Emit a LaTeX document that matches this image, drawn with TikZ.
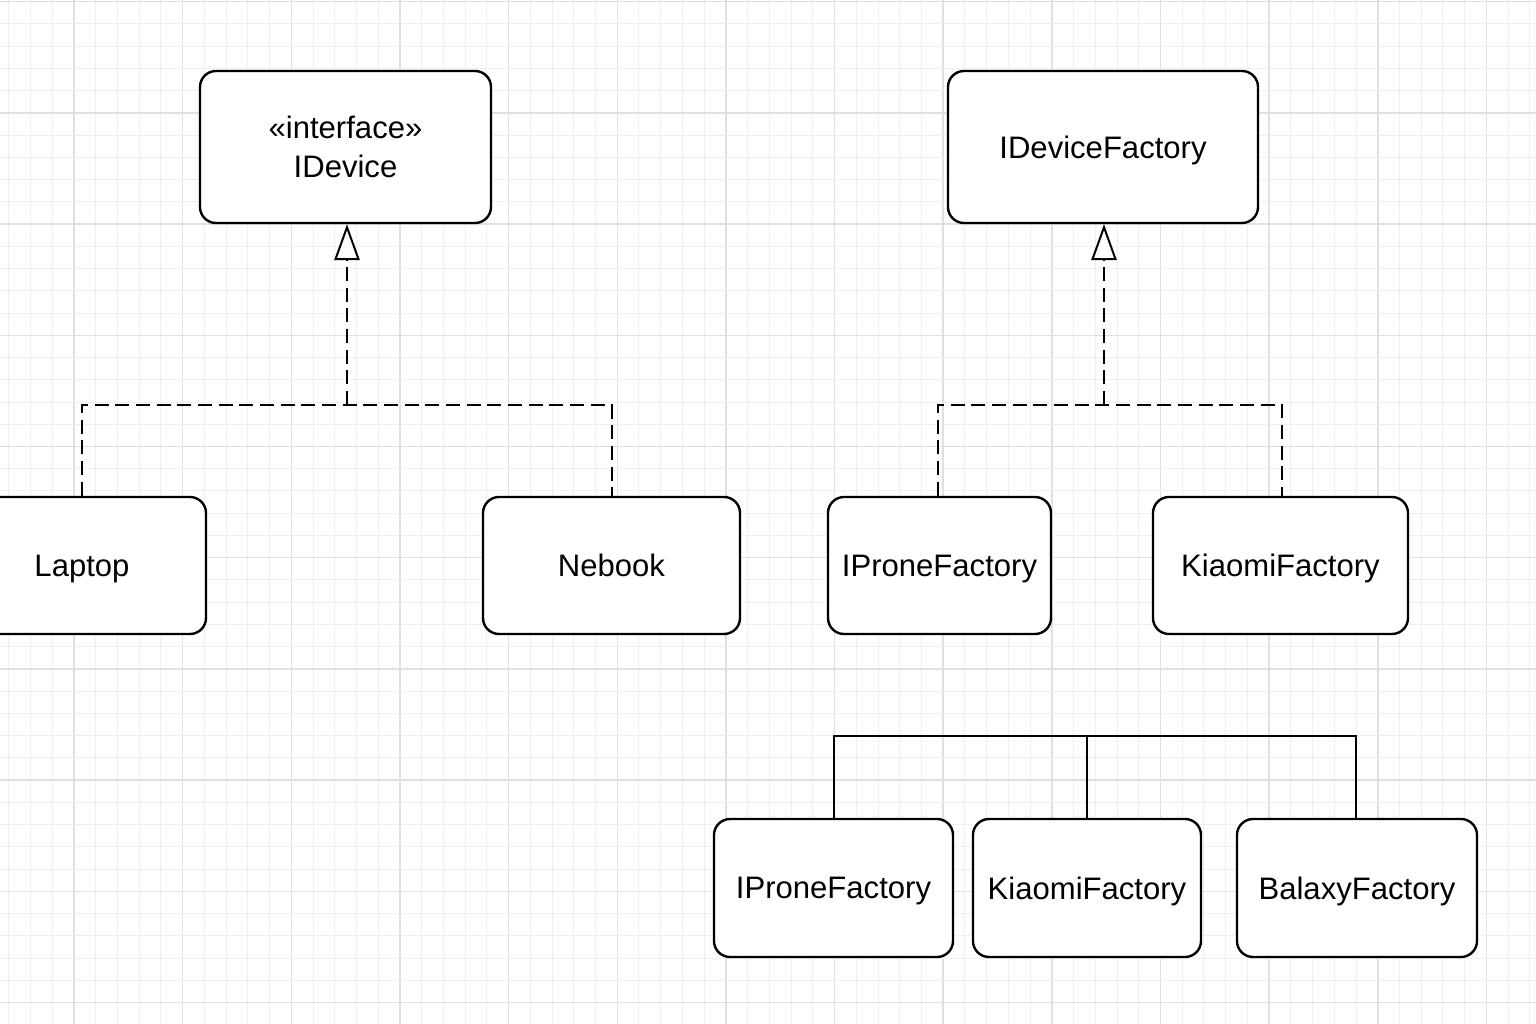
\documentclass[tikz,border=0pt]{standalone}
\usepackage{fontspec}
\setmainfont{Liberation Sans}
\usetikzlibrary{arrows.meta}
\definecolor{gridminor}{HTML}{EFEFEF}
\definecolor{gridmajor}{HTML}{E0E0E0}
\tikzset{
  classbox/.style={draw=black, line width=1.8pt, rounded corners=12pt, fill=white,
    inner sep=0pt, align=center, text depth=0pt, font=\fontsize{23.3}{29.5}\selectfont},
  realize/.style={draw=black, line width=1.5pt, dash pattern=on 10.5pt off 5pt},
  plainline/.style={draw=black, line width=1.5pt},
  hollowtip/.style={-{Triangle[open, length=27pt, width=19pt, fill=white]}},
  minorgrid/.style={draw=gridminor, line width=0.75pt},
  majorgrid/.style={draw=gridmajor, line width=1.1pt},
}
\begin{document}
\begin{tikzpicture}[x=0.75pt,y=-0.75pt]
\useasboundingbox (0,0) rectangle (1536,1024);
\clip (0,0) rectangle (1536,1024);
\fill[white] (0,0) rectangle (1536,1024);
% grid
\foreach \i in {0,...,70} {
  \pgfmathtruncatemacro{\m}{mod(\i+2,5)}
  \ifnum\m=0
    \draw[majorgrid] ({8.8+\i*21.73},0) -- ({8.8+\i*21.73},1024);
  \else
    \draw[minorgrid] ({8.8+\i*21.73},0) -- ({8.8+\i*21.73},1024);
  \fi
}
\foreach \j in {0,...,46} {
  \pgfmathtruncatemacro{\m}{mod(\j,5)}
  \ifnum\m=0
    \draw[majorgrid] (0,{1.7+\j*22.24}) -- (1536,{1.7+\j*22.24});
  \else
    \draw[minorgrid] (0,{1.7+\j*22.24}) -- (1536,{1.7+\j*22.24});
  \fi
}
% nodes
\node[classbox, minimum width=218.25pt, minimum height=114pt, text depth=-3pt] (idev) at (345.5,147) {«interface»\\IDevice};
\node[classbox, minimum width=232.5pt, minimum height=114pt] (idevf) at (1103,147) {IDeviceFactory};
\node[classbox, minimum width=186pt, minimum height=102.75pt] (laptop) at (82,565.5) {Laptop};
\node[classbox, minimum width=192.75pt, minimum height=102.75pt] (nebook) at (611.5,565.5) {Nebook};
\node[classbox, minimum width=167.25pt, minimum height=102.75pt] (iprone) at (939.5,565.5) {IProneFactory};
\node[classbox, minimum width=191.25pt, minimum height=102.75pt] (kiaomi) at (1280.5,565.5) {KiaomiFactory};
\node[classbox, minimum width=179.25pt, minimum height=103.5pt] (ipronetwo) at (833.5,888) {IProneFactory};
\node[classbox, minimum width=171pt, minimum height=103.5pt] (kiaomitwo) at (1087,888) {KiaomiFactory};
\node[classbox, minimum width=180pt, minimum height=103.5pt] (balaxy) at (1357,888) {BalaxyFactory};
% junctions
\coordinate (jl) at (347,405);
\coordinate (jr) at (1104,405);
\coordinate (jb) at (1087,736);
% connectors
\draw[realize] (laptop.north) |- (jl) -| (nebook.north);
\draw[realize, hollowtip] (jl) -- (idev.south -| jl);
\draw[realize] (iprone.north -| 938,0) |- (jr) -| (kiaomi.north -| 1282,0);
\draw[realize, hollowtip] (jr) -- (idevf.south -| jr);
\draw[plainline] (ipronetwo.north -| 834,0) |- (jb) -| (balaxy.north -| 1356,0);
\draw[plainline] (jb) -- (kiaomitwo.north);
\end{tikzpicture}
\end{document}
